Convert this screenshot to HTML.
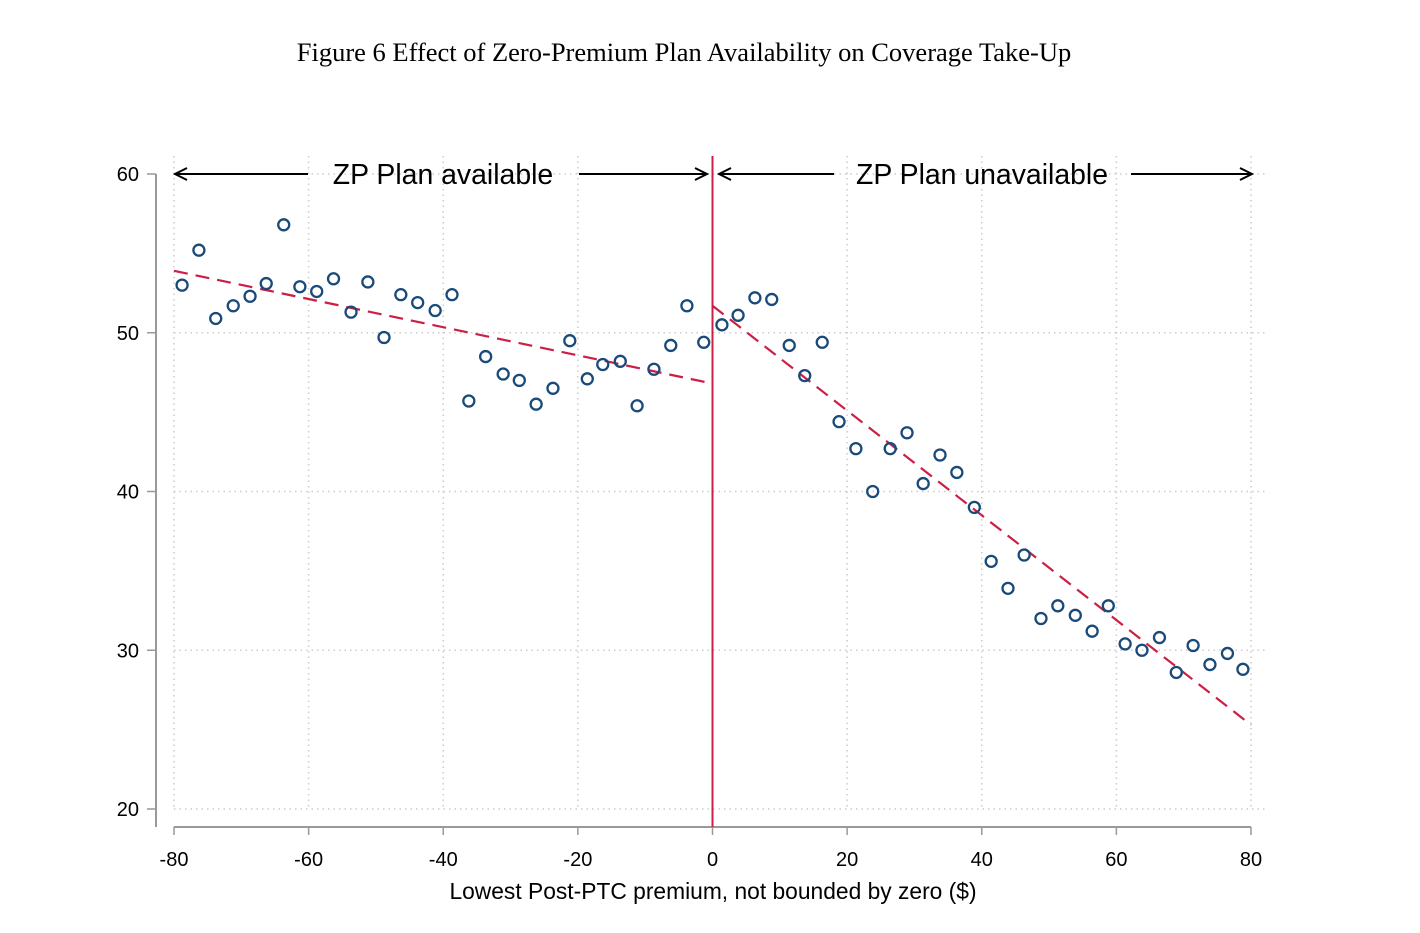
<!DOCTYPE html>
<html><head><meta charset="utf-8"><style>
body{margin:0;background:#fff;width:1420px;height:928px;overflow:hidden}
svg text{font-family:"Liberation Sans",sans-serif}
</style></head><body>
<svg id="chart" width="1420" height="928" xmlns="http://www.w3.org/2000/svg">
<text x="684" y="61" text-anchor="middle" style="font-family:'Liberation Serif',serif;font-size:26.5px">Figure 6 Effect of Zero-Premium Plan Availability on Coverage Take-Up</text>
<g id="grid"></g><g id="axes"></g><g id="fits"></g><g id="pts"></g><g id="ann"></g>
</svg>
<script>
const xVals=[-78.8,-76.3,-73.8,-71.2,-68.7,-66.3,-63.7,-61.3,-58.8,-56.3,-53.7,-51.2,-48.8,-46.3,-43.8,-41.2,-38.7,-36.2,-33.7,-31.1,-28.7,-26.2,-23.7,-21.2,-18.6,-16.3,-13.7,-11.2,-8.7,-6.2,-3.8,-1.3,1.4,3.8,6.3,8.8,11.4,13.7,16.3,18.8,21.3,23.8,26.4,28.9,31.3,33.8,36.3,38.9,41.4,43.9,46.3,48.8,51.3,53.9,56.4,58.8,61.3,63.8,66.4,68.9,71.4,73.9,76.5,78.8];
const yVals=[53.0,55.2,50.9,51.7,52.3,53.1,56.8,52.9,52.6,53.4,51.3,53.2,49.7,52.4,51.9,51.4,52.4,45.7,48.5,47.4,47.0,45.5,46.5,49.5,47.1,48.0,48.2,45.4,47.7,49.2,51.7,49.4,50.5,51.1,52.2,52.1,49.2,47.3,49.4,44.4,42.7,40.0,42.7,43.7,40.5,42.3,41.2,39.0,35.6,33.9,36.0,32.0,32.8,32.2,31.2,32.8,30.4,30.0,30.8,28.6,30.3,29.1,29.8,28.8];
const leftFit=[[-80,53.9],[0,46.8]];
const rightFit=[[0,51.7],[80,25.3]];
const xTicks=[-80,-60,-40,-20,0,20,40,60,80];
const yTicks=[20,30,40,50,60];
const NS="http://www.w3.org/2000/svg";
const sx=v=>712.5+v*(1077/160);
const sy=v=>174+(60-v)*(635/40);
function mk(tag,attrs,parent,txt){const e=document.createElementNS(NS,tag);for(const k in attrs)e.setAttribute(k,attrs[k]);if(txt!==undefined)e.textContent=txt;document.getElementById(parent).appendChild(e);return e;}
xTicks.forEach(t=>{
 const g=mk('line',{x1:sx(t),x2:sx(t),y1:sy(60)-18,y2:sy(20),stroke:'#ccc','stroke-width':1.5,'stroke-dasharray':'1.5 4'},'grid');
 
 
 const tk=mk('line',{x1:sx(t),x2:sx(t),y1:827,y2:835,stroke:'#999','stroke-width':1.5},'axes');
 
 
 const l=mk('text',{x:sx(t),y:866,'text-anchor':'middle','font-size':20},'axes',String(t));
 
 
});
yTicks.forEach(t=>{
 const g=mk('line',{x1:sx(-80),x2:1268,y1:sy(t),y2:sy(t),stroke:'#ccc','stroke-width':1.5,'stroke-dasharray':'1.5 4'},'grid');
 
 
 const tk=mk('line',{x1:147,x2:156,y1:sy(t),y2:sy(t),stroke:'#999','stroke-width':1.5},'axes');
 
 
 const l=mk('text',{x:139,y:sy(t)+7,'text-anchor':'end','font-size':20},'axes',String(t));
 
 
});
let a=mk('line',{x1:156,x2:156,y1:sy(60),y2:827,stroke:'#999','stroke-width':2},'axes');


a=mk('line',{x1:sx(-80),x2:sx(80),y1:827,y2:827,stroke:'#999','stroke-width':2},'axes');


a=mk('text',{x:713,y:899,'text-anchor':'middle','font-size':22.8},'axes','Lowest Post-PTC premium, not bounded by zero ($)');


[leftFit,rightFit].forEach((f,i)=>{
 const l=mk('line',{x1:sx(f[0][0]),y1:sy(f[0][1]),x2:sx(f[1][0]),y2:sy(f[1][1]),stroke:'#cc1f45','stroke-width':2.2,'stroke-dasharray':'14 8'},'fits');
 
 
});
a=mk('line',{x1:sx(0),x2:sx(0),y1:156,y2:827,stroke:'#cc1f45','stroke-width':2},'fits');


xVals.forEach((x,i)=>{
 const c=mk('circle',{cx:sx(x),cy:sy(yVals[i]),r:5.5,fill:'none',stroke:'#1a4a7a','stroke-width':2.3},'pts');
 
 
});
function arrow(x1,x2,name){
 const y=sy(60);
 const l=mk('line',{x1:x1,x2:x2,y1:y,y2:y,stroke:'#000','stroke-width':2},'ann');
 
 
}
function head(x,dir){const y=sy(60);const p=mk('polyline',{points:`${x+dir*12},${y-6} ${x},${y} ${x+dir*12},${y+6}`,fill:'none',stroke:'#000','stroke-width':2},'ann');
}
arrow(175,308,'arrow-left-available');head(175,1);
arrow(579,707,'arrow-right-available');head(707,-1);
arrow(719,834,'arrow-left-unavailable');head(719,1);
arrow(1131,1252,'arrow-right-unavailable');head(1252,-1);
a=mk('text',{x:443,y:sy(60)+10,'text-anchor':'middle','font-size':28.4},'ann','ZP Plan available');


a=mk('text',{x:982,y:sy(60)+10,'text-anchor':'middle','font-size':28.4},'ann','ZP Plan unavailable');


</script>
</body></html>
